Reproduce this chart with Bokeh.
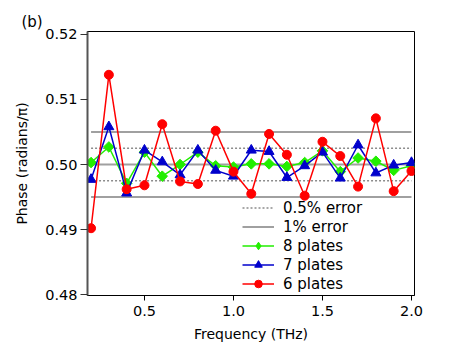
from bokeh.plotting import figure
from bokeh.models import Range1d, Legend, LegendItem, Title, FixedTicker, NumeralTickFormatter
from bokeh.embed import file_html
from bokeh.resources import INLINE

freq = [0.2, 0.3, 0.4, 0.5, 0.6, 0.7, 0.8, 0.9, 1.0, 1.1, 1.2, 1.3, 1.4, 1.5, 1.6, 1.7, 1.8, 1.9, 2.0]
plates8 = [0.5003, 0.5027, 0.4971, 0.5019, 0.4982, 0.5000, 0.5019, 0.4998, 0.4996, 0.5001, 0.5001,
           0.4997, 0.5003, 0.5021, 0.4989, 0.5010, 0.5005, 0.4991, 0.4998]
plates7 = [0.4977, 0.5058, 0.4956, 0.5022, 0.5004, 0.4984, 0.5022, 0.4991, 0.4982, 0.5022, 0.5020,
           0.4980, 0.4998, 0.5019, 0.4979, 0.5030, 0.4987, 0.4999, 0.5003]
plates6 = [0.4902, 0.5138, 0.4962, 0.4968, 0.5062, 0.4974, 0.4970, 0.5052, 0.4989, 0.4955, 0.5047,
           0.5015, 0.4952, 0.5035, 0.5013, 0.4966, 0.5071, 0.4959, 0.4990]
half_err_levels = [0.4975, 0.5025]
one_err_levels = [0.495, 0.500, 0.505]
x_ticks = [0.5, 1.0, 1.5, 2.0]
y_ticks = [0.48, 0.49, 0.50, 0.51, 0.52]

FONT = "DejaVu Sans"
GREEN, BLUE, RED = "#22ee00", "#0000cc", "#ff0000"

p = figure(frame_width=327, frame_height=264, output_backend="svg", toolbar_location=None,
           x_range=Range1d(0.18, 2.017), y_range=Range1d(0.47985, 0.52046),
           min_border_left=87, min_border_top=31, min_border_right=30, min_border_bottom=40)
p.grid.visible = False
p.outline_line_color = "black"
p.outline_line_width = 1
p.background_fill_color = "white"
p.border_fill_color = "white"

# error lines
fmin, fmax = freq[0], freq[-1]
r_half = p.segment(x0=[fmin] * len(half_err_levels), x1=[fmax] * len(half_err_levels),
                   y0=half_err_levels, y1=half_err_levels,
                   line_color="#8c8c8c", line_width=1.5, line_dash="2 2")
r_one = p.segment(x0=[fmin] * len(one_err_levels), x1=[fmax] * len(one_err_levels),
                  y0=one_err_levels, y1=one_err_levels,
                  line_color="#a0a0a0", line_width=2)

# data series
g_line = p.line(freq, plates8, line_color=GREEN, line_width=1.5)
p.scatter(freq, plates8, marker="square", angle=45, angle_units="deg", size=7.5,
          fill_color=GREEN, line_color=GREEN)
# diamond used for the legend swatch (drawn at zero size in the plot)
g_key = p.scatter(freq, plates8, marker="diamond", size=0, fill_color=GREEN, line_color=GREEN)
b_line = p.line(freq, plates7, line_color=BLUE, line_width=1.5)
b_mark = p.scatter(freq, plates7, marker="triangle", size=10, fill_color=BLUE, line_color=BLUE)
r_line = p.line(freq, plates6, line_color=RED, line_width=1.5)
r_mark = p.scatter(freq, plates6, marker="circle", size=9, fill_color=RED, line_color=RED)

legend = Legend(items=[
    LegendItem(label="0.5% error", renderers=[r_half]),
    LegendItem(label="1% error", renderers=[r_one]),
    LegendItem(label="8 plates", renderers=[g_line, g_key]),
    LegendItem(label="7 plates", renderers=[b_line, b_mark]),
    LegendItem(label="6 plates", renderers=[r_line, r_mark]),
], location=(155, 2))
legend.border_line_color = None
legend.background_fill_alpha = 0
legend.padding = 0
legend.margin = 0
legend.spacing = 0
legend.glyph_width = 32
legend.glyph_height = 19
legend.label_height = 19
legend.label_standoff = 9
legend.label_text_font = FONT
legend.label_text_font_size = "15px"
legend.label_text_color = "black"
p.add_layout(legend, "center")

# axes
p.xaxis.ticker = FixedTicker(ticks=x_ticks)
p.yaxis.ticker = FixedTicker(ticks=y_ticks)
p.xaxis.formatter = NumeralTickFormatter(format="0.0")
p.yaxis.formatter = NumeralTickFormatter(format="0.00")
p.xaxis.axis_label = "Frequency (THz)"
p.yaxis.axis_label = "Phase (radians/\u03c0)"
for ax in (p.xaxis, p.yaxis):
    ax.axis_label_text_font = FONT
    ax.axis_label_text_font_size = "14px"
    ax.axis_label_text_font_style = "normal"
    ax.axis_label_text_color = "black"
    ax.major_label_text_font = FONT
    ax.major_label_text_font_size = "14.5px"
    ax.major_label_text_color = "black"
    ax.minor_tick_line_color = None
    ax.major_tick_in = 0
p.yaxis.axis_line_color = "#555555"
p.yaxis.axis_line_width = 2
p.yaxis.major_tick_line_color = "#333333"
p.yaxis.major_tick_out = 7
p.yaxis.major_label_standoff = 3
p.yaxis.axis_label_standoff = 12
p.xaxis.axis_line_color = "black"
p.xaxis.major_tick_line_color = "black"
p.xaxis.major_tick_out = 5
p.xaxis.major_label_standoff = 5
p.xaxis.axis_label_standoff = 7

p.add_layout(Title(text="(b)", align="left", offset=-66, standoff=2,
                   text_font=FONT, text_font_size="15px", text_font_style="normal",
                   text_color="black"), "above")

open("out.html", "w").write(file_html(p, INLINE))
